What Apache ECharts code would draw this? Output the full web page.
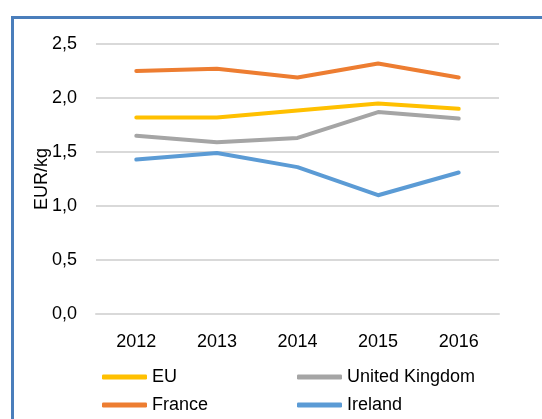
<!DOCTYPE html>
<html><head><meta charset="utf-8">
<script src="https://cdn.jsdelivr.net/npm/echarts@6/dist/echarts.min.js"></script>
<style>html,body{margin:0;padding:0;background:#fff}#c{width:542px;height:419px}</style>
</head><body><div id="c"></div>
<script>
var years = ['2012','2013','2014','2015','2016'];
var yTicks = [0, 0.5, 1.0, 1.5, 2.0, 2.5];
var euValues = [1.82, 1.82, 1.885, 1.95, 1.90];
var ukValues = [1.65, 1.59, 1.63, 1.87, 1.81];
var franceValues = [2.25, 2.27, 2.19, 2.32, 2.19];
var irelandValues = [1.43, 1.49, 1.36, 1.10, 1.31];
var yName = 'EUR/kg';

var font = 'Liberation Sans, Arial, sans-serif';
function mk(name, data, color) {
  return {name: name, type: 'line', data: data, symbol: 'none', smooth: false,
    lineStyle: {color: color, width: 4, cap: 'round', join: 'round'}, itemStyle: {color: color}};
}
function lg(name, left, top) {
  return {data: [name], left: left, top: top, itemWidth: 45, itemHeight: 5, padding: 0,
    icon: 'roundRect', textStyle: {fontFamily: font, fontSize: 18, color: '#000'}};
}
var chart = echarts.init(document.getElementById('c'));
chart.setOption({
  animation: false,
  backgroundColor: '#fff',
  graphic: [{type: 'rect', shape: {x: 12.5, y: 17.5, width: 700, height: 600},
    style: {fill: null, stroke: '#4a7ebb', lineWidth: 3}, silent: true}],
  grid: {left: 96, right: 43, top: 44, bottom: 105},
  legend: [lg('EU', 102, 368), lg('France', 102, 396), lg('United Kingdom', 297, 368), lg('Ireland', 297, 396)],
  xAxis: {type: 'category', data: years, boundaryGap: true,
    axisLine: {lineStyle: {color: '#d9d9d9', width: 2}}, axisTick: {show: false},
    axisLabel: {fontFamily: font, fontSize: 18, color: '#000', margin: 19}},
  yAxis: {type: 'value', min: yTicks[0], max: yTicks[yTicks.length - 1], interval: 0.5,
    name: yName, nameLocation: 'middle', nameGap: 45, nameRotate: 90, nameMoveOverlap: false,
    nameTextStyle: {fontFamily: font, fontSize: 18, color: '#000'},
    axisLine: {show: false}, axisTick: {show: false},
    splitLine: {lineStyle: {color: '#d9d9d9', width: 2}},
    axisLabel: {fontFamily: font, fontSize: 18, color: '#000', margin: 19,
      formatter: function (v) { return v.toFixed(1).replace('.', ','); }}},
  series: [
    mk('EU', euValues, '#ffc000'),
    mk('United Kingdom', ukValues, '#a5a5a5'),
    mk('France', franceValues, '#ed7d31'),
    mk('Ireland', irelandValues, '#5b9bd5')
  ]
});
</script></body></html>
